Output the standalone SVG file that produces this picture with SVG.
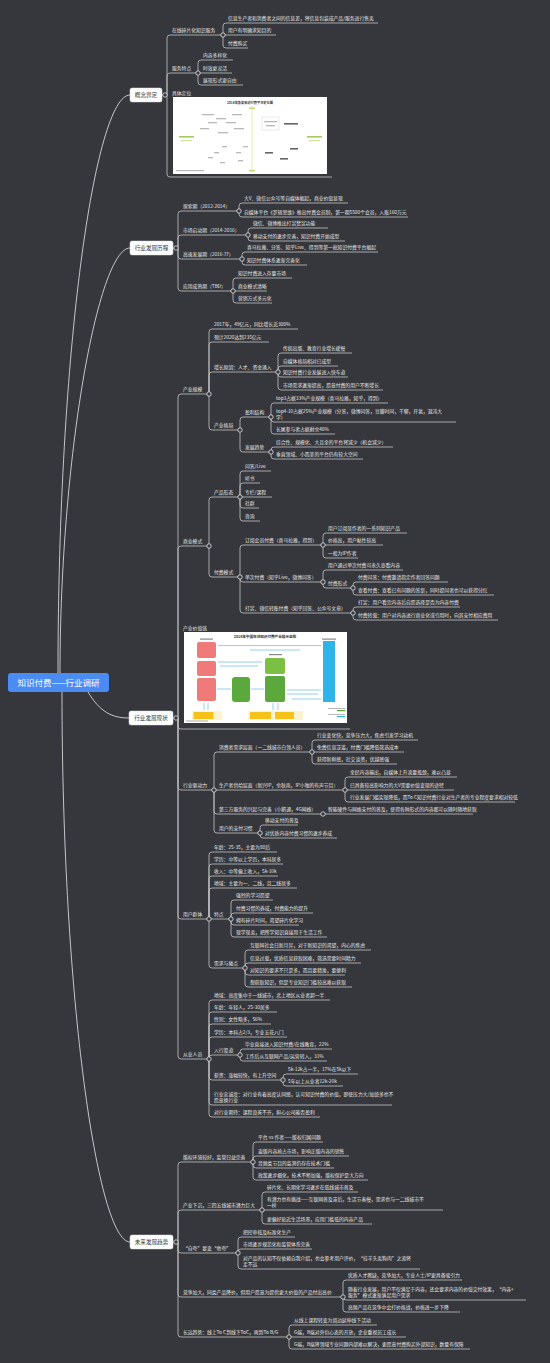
<svg xmlns="http://www.w3.org/2000/svg" width="550" height="1363" viewBox="0 0 550 1363">
<style>
.bg{fill:#36373c}
.ln{fill:none;stroke:#c4c4c4;stroke-width:0.8}
.cv{fill:none;stroke:#d6d6d6;stroke-width:0.9}
.dot{fill:#36373c;stroke:#e6e6e6;stroke-width:0.8}
text{font-family:"Noto Sans CJK SC","Noto Sans",sans-serif}
.t{font-size:4.8px;fill:#e9e9e9}
.b{fill:#fff;stroke:#d8d8d8;stroke-width:0.5}
.bt{font-size:5.6px;fill:#3a3a3a;text-anchor:middle}
.blob{fill:#b8b8b8}
.blue{fill:none;stroke:#4fb0e0;stroke-width:0.6}
</style>
<rect class="bg" x="0" y="0" width="550" height="1363"/>

<g id="connectors">
<g class="cv">
<path d="M58,673 C58,350 95,95 130,95"/>
<path d="M60,673 C60,460 98,248 130,248"/>
<path d="M88,692 C100,712 112,718 129,718"/>
<path d="M62,692 C62,1000 98,1242 130,1242"/>
</g>
<g class="ln">
<path d="M162,95H167"/>
<path d="M167,95V38Q167,35 170,35H223"/>
<path d="M167,95V76Q167,73 170,73H198"/>
<path d="M167,95V174Q167,177 170,177H332"/>
<path d="M223,35V26Q223,23 226,23H378"/>
<path d="M223,35H276"/>
<path d="M223,35V45Q223,48 226,48H248"/>
<path d="M198,73V63Q198,60 201,60H233"/>
<path d="M198,73H232"/>
<path d="M198,73V82Q198,85 201,85H243"/>

<path d="M173,248H178"/>
<path d="M178,248V214Q178,211 181,211H239"/>
<path d="M178,248V238Q178,235 181,235H248"/>
<path d="M178,248V256Q178,259 181,259H242"/>
<path d="M178,248V288Q178,291 181,291H233"/>
<path d="M239,211V206Q239,203 242,203H348"/>
<path d="M239,211V214Q239,217 242,217H408"/>
<path d="M248,235V231Q248,228 251,228H328"/>
<path d="M248,235V238Q248,241 251,241H345"/>
<path d="M242,259V255Q242,252 245,252H378"/>
<path d="M242,259V262Q242,265 245,265H307"/>
<path d="M233,291V281Q233,278 236,278H292"/>
<path d="M233,291H267"/>
<path d="M233,291V300Q233,303 236,303H272"/>

<path d="M173,718H178"/>
<path d="M178,718V397Q178,394 181,394H209"/>
<path d="M178,718V549Q178,546 181,546H209"/>
<path d="M178,718V726Q178,729 181,729H350"/>
<path d="M178,718V787Q178,790 181,790H214"/>
<path d="M178,718V916Q178,919 181,919H209"/>
<path d="M178,718V1056Q178,1059 181,1059H209"/>

<path d="M209,394V332Q209,329 212,329H298"/>
<path d="M209,394V345Q209,342 212,342H269"/>
<path d="M209,394V375Q209,372 212,372H278"/>
<path d="M209,394V427Q209,430 212,430H240"/>
<path d="M278,372V356Q278,353 281,353H352"/>
<path d="M278,372V369Q278,366 281,366H338"/>
<path d="M278,372V374Q278,377 281,377H348"/>
<path d="M278,372V387Q278,390 281,390H383"/>
<path d="M240,430V420Q240,417 243,417H271"/>
<path d="M240,430V449Q240,452 243,452H271"/>
<path d="M271,417V406Q271,403 274,403H388"/>
<path d="M271,417V419Q271,422 274,422H456"/>
<path d="M271,417V431Q271,434 274,434H335"/>
<path d="M271,452V450Q271,447 274,447H393"/>
<path d="M271,452V456Q271,459 274,459H363"/>

<path d="M209,546V500Q209,497 212,497H240"/>
<path d="M209,546V574Q209,577 212,577H240"/>
<path d="M240,497V474Q240,471 243,471H271"/>
<path d="M240,497V486Q240,483 243,483H260"/>
<path d="M240,497H272"/>
<path d="M240,497V505Q240,508 243,508H259"/>
<path d="M240,497V518Q240,521 243,521H260"/>
<path d="M240,577V548Q240,545 243,545H323"/>
<path d="M240,577V579Q240,582 243,582H323"/>
<path d="M240,577V610Q240,613 243,613H353"/>
<path d="M323,545V536Q323,533 326,533H407"/>
<path d="M323,545H383"/>
<path d="M323,545V555Q323,558 326,558H358"/>
<path d="M323,582V573Q323,570 326,570H403"/>
<path d="M323,582V585Q323,588 326,588H353"/>
<path d="M353,588V585Q353,582 356,582H448"/>
<path d="M353,588V592Q353,595 356,595H494"/>
<path d="M353,613V610Q353,607 356,607H460"/>
<path d="M353,613V617Q353,620 356,620H498"/>

<path d="M214,790V755Q214,752 217,752H312"/>
<path d="M214,790H345"/>
<path d="M214,790V811Q214,814 217,814H323"/>
<path d="M214,790V830Q214,833 217,833H260"/>
<path d="M312,752V743Q312,740 315,740H418"/>
<path d="M312,752H404"/>
<path d="M312,752V761Q312,764 315,764H397"/>
<path d="M345,790V780Q345,777 348,777H457"/>
<path d="M345,790H454"/>
<path d="M345,790V799Q345,802 348,802H515"/>
<path d="M323,814H473"/>
<path d="M260,833V828Q260,825 263,825H298"/>
<path d="M260,833V835Q260,838 263,838H337"/>

<path d="M209,919V855Q209,852 212,852H277"/>
<path d="M209,919V867Q209,864 212,864H283"/>
<path d="M209,919V879Q209,876 212,876H278"/>
<path d="M209,919V891Q209,888 212,888H297"/>
<path d="M209,919H231"/>
<path d="M209,919V965Q209,968 212,968H245"/>
<path d="M231,919V903Q231,900 234,900H273"/>
<path d="M231,919V916Q231,913 234,913H313"/>
<path d="M231,919V922Q231,925 234,925H299"/>
<path d="M231,919V934Q231,937 234,937H327"/>
<path d="M245,968V953Q245,950 248,950H371"/>
<path d="M245,968V966Q245,963 248,963H361"/>
<path d="M245,968V972Q245,975 248,975H345"/>
<path d="M245,968V984Q245,987 248,987H352"/>

<path d="M209,1059V1003Q209,1000 212,1000H330"/>
<path d="M209,1059V1015Q209,1012 212,1012H277"/>
<path d="M209,1059V1027Q209,1024 212,1024H271"/>
<path d="M209,1059V1040Q209,1037 212,1037H287"/>
<path d="M209,1059V1058Q209,1055 212,1055H240"/>
<path d="M209,1059V1077Q209,1080 212,1080H283"/>
<path d="M209,1059V1102Q209,1105 212,1105H392"/>
<path d="M209,1059V1114Q209,1117 212,1117H320"/>
<path d="M240,1055V1052Q240,1049 243,1049H332"/>
<path d="M240,1055V1058Q240,1061 243,1061H327"/>
<path d="M283,1080V1077Q283,1074 286,1074H358"/>
<path d="M283,1080V1083Q283,1086 286,1086H343"/>

<path d="M173,1242H178"/>
<path d="M178,1242V1165Q178,1162 181,1162H253"/>
<path d="M178,1242V1213Q178,1210 181,1210H262"/>
<path d="M178,1242V1250Q178,1253 181,1253H238"/>
<path d="M178,1242V1294Q178,1297 181,1297H343"/>
<path d="M178,1242V1334Q178,1337 181,1337H289"/>
<path d="M253,1162V1145Q253,1142 256,1142H323"/>
<path d="M253,1162V1159Q253,1156 256,1156H349"/>
<path d="M253,1162V1165Q253,1168 256,1168H334"/>
<path d="M253,1162V1177Q253,1180 256,1180H368"/>
<path d="M262,1210V1195Q262,1192 265,1192H358"/>
<path d="M262,1210H443"/>
<path d="M262,1210V1221Q262,1224 265,1224H372"/>
<path d="M238,1253V1240Q238,1237 241,1237H295"/>
<path d="M238,1253V1252Q238,1249 241,1249H312"/>
<path d="M238,1253V1266Q238,1269 241,1269H420"/>
<path d="M343,1297V1283Q343,1280 346,1280H462"/>
<path d="M343,1297Q343,1300 346,1300H526"/>
<path d="M343,1297V1309Q343,1312 346,1312H460"/>
<path d="M289,1337V1328Q289,1325 292,1325H377"/>
<path d="M289,1337H406"/>
<path d="M289,1337V1346Q289,1349 292,1349H470"/>
</g>
<g class="dot">
<circle cx="165" cy="95" r="2.2"/><circle cx="223" cy="35" r="2.2"/><circle cx="198" cy="73" r="2.2"/>
<circle cx="176" cy="248" r="2.2"/><circle cx="239" cy="211" r="2.2"/><circle cx="248" cy="235" r="2.2"/><circle cx="242" cy="259" r="2.2"/><circle cx="233" cy="291" r="2.2"/>
<circle cx="176" cy="718" r="2.2"/><circle cx="209" cy="394" r="2.2"/><circle cx="278" cy="372" r="2.2"/><circle cx="240" cy="430" r="2.2"/><circle cx="271" cy="417" r="2.2"/><circle cx="271" cy="452" r="2.2"/>
<circle cx="209" cy="546" r="2.2"/><circle cx="240" cy="497" r="2.2"/><circle cx="240" cy="577" r="2.2"/><circle cx="323" cy="545" r="2.2"/><circle cx="323" cy="582" r="2.2"/><circle cx="353" cy="588" r="2.2"/><circle cx="353" cy="613" r="2.2"/>
<circle cx="214" cy="790" r="2.2"/><circle cx="312" cy="752" r="2.2"/><circle cx="345" cy="790" r="2.2"/><circle cx="323" cy="814" r="2.2"/><circle cx="260" cy="833" r="2.2"/>
<circle cx="209" cy="919" r="2.2"/><circle cx="231" cy="919" r="2.2"/><circle cx="245" cy="968" r="2.2"/>
<circle cx="209" cy="1059" r="2.2"/><circle cx="240" cy="1055" r="2.2"/><circle cx="283" cy="1080" r="2.2"/>
<circle cx="176" cy="1242" r="2.2"/><circle cx="253" cy="1162" r="2.2"/><circle cx="262" cy="1210" r="2.2"/><circle cx="238" cy="1253" r="2.2"/><circle cx="343" cy="1297" r="2.2"/><circle cx="289" cy="1337" r="2.2"/>
</g>
</g>

<g id="root">
<rect x="8" y="673" width="101" height="19" rx="3" fill="#4a8cf2"/>
<text x="58.5" y="685.8" font-size="8.5" fill="#fff" text-anchor="middle">知识付费——行业调研</text>
</g>

<g id="b1"><rect class="b" x="130" y="88" width="32" height="14" rx="2"/><text class="bt" x="146" y="97">概念界定</text></g>
<g id="b2"><rect class="b" x="130" y="241" width="43" height="14" rx="2"/><text class="bt" x="151.5" y="250">行业发展历程</text></g>
<g id="b3"><rect class="b" x="129" y="711" width="44" height="14" rx="2"/><text class="bt" x="151" y="720">行业发展现状</text></g>
<g id="b4"><rect class="b" x="130" y="1235" width="43" height="14" rx="2"/><text class="bt" x="151.5" y="1244">未来发展趋势</text></g>

<g id="n1-1"><text class="t" x="172" y="32.2">在线碎片化知识服务</text></g>
<g id="n1-1-1"><text class="t" x="228" y="20.2">信息生产者和消费者之间的信息差，将信息包装成产品/服务进行售卖</text></g>
<g id="n1-1-2"><text class="t" x="228" y="32.2">用户有明确求知目的</text></g>
<g id="n1-1-3"><text class="t" x="228" y="45.2">付费购买</text></g>
<g id="n1-2"><text class="t" x="172" y="70.2">服务特点</text></g>
<g id="n1-2-1"><text class="t" x="203" y="57.2">内容多样化</text></g>
<g id="n1-2-2"><text class="t" x="203" y="70.2">时效更灵活</text></g>
<g id="n1-2-3"><text class="t" x="203" y="82.2">展现形式更自由</text></g>
<g id="n1-3"><text class="t" x="172" y="95">具体定位</text>
<rect x="173" y="97" width="154" height="77" fill="#fff"/>
<text x="250" y="103.5" font-size="3.2" font-weight="bold" fill="#333" text-anchor="middle">2018年各类知识付费平台定位图</text>
<line x1="252" y1="106" x2="252" y2="172" stroke="#e4ecb0" stroke-width="1"/>
<rect x="249" y="107.5" width="6" height="1.4" fill="#c9d47a"/><rect x="249" y="170" width="6" height="1.4" fill="#c9d47a"/>
<rect x="179" y="136" width="15" height="1.6" fill="#a5cc5a"/><rect x="181" y="140" width="11" height="1.2" fill="#cfe39a"/>
<rect x="307" y="136" width="15" height="1.6" fill="#a5cc5a"/><rect x="309" y="140" width="11" height="1.2" fill="#cfe39a"/>
<rect x="262" y="117" width="17" height="13" fill="none" stroke="#cccccc" stroke-width="0.4"/>
<rect x="264" y="121" width="13" height="1.3" class="blob"/><rect x="266" y="125" width="9" height="1.3" class="blob"/>
<rect x="284" y="123" width="14" height="1.6" fill="#666"/>
<rect x="202" y="114" width="12" height="1.3" class="blob"/><rect x="216" y="118" width="10" height="1.3" class="blob"/><rect x="232" y="114" width="10" height="1.3" class="blob"/>
<rect x="208" y="122" width="9" height="1.3" class="blob"/><rect x="226" y="122" width="10" height="1.3" class="blob"/><rect x="200" y="128" width="9" height="1.3" class="blob"/>
<rect x="218" y="132" width="10" height="1.3" class="blob"/><rect x="234" y="128" width="10" height="1.3" class="blob"/>
<rect x="222" y="146" width="5" height="1.3" class="blob"/><rect x="243" y="146" width="5" height="1.3" class="blob"/><rect x="214" y="152" width="5" height="1.3" class="blob"/>
<rect x="236" y="152" width="5" height="1.3" class="blob"/><rect x="208" y="157" width="5" height="1.3" class="blob"/><rect x="220" y="162" width="5" height="1.3" class="blob"/><rect x="238" y="160" width="5" height="1.3" class="blob"/>
<rect x="265" y="152" width="8" height="1.6" fill="#666"/><rect x="290" y="148" width="8" height="1.6" fill="#666"/><rect x="280" y="158" width="8" height="1.6" fill="#666"/>
<rect x="176" y="170" width="28" height="1.2" class="blob"/>
</g>

<g id="n2-1"><text class="t" x="183" y="208.2">探索期（2012-2014）</text></g>
<g id="n2-1-1"><text class="t" x="244" y="200.2">大V、微信公众号等自媒体崛起，商业价值显现</text></g>
<g id="n2-1-2"><text class="t" x="244" y="214.2">自媒体平台《罗辑思维》推出付费会员制，第一期5500个会员，入账160万元</text></g>
<g id="n2-2"><text class="t" x="183" y="232.2">市场启动期（2014-2016）</text></g>
<g id="n2-2-1"><text class="t" x="253" y="225.2">微信、微博推出打赏赞赏功能</text></g>
<g id="n2-2-2"><text class="t" x="253" y="238.2">移动支付的逐步完善，知识付费开始成型</text></g>
<g id="n2-3"><text class="t" x="183" y="256.2">高速发展期（2016-??）</text></g>
<g id="n2-3-1"><text class="t" x="247" y="249.2">喜马拉雅、分答、知乎Live、得到等第一批知识付费平台崛起</text></g>
<g id="n2-3-2"><text class="t" x="247" y="262.2">知识付费体系逐渐完善化</text></g>
<g id="n2-4"><text class="t" x="183" y="288.2">应用成熟期（TBD）</text></g>
<g id="n2-4-1"><text class="t" x="238" y="275.2">知识付费进入存量市场</text></g>
<g id="n2-4-2"><text class="t" x="238" y="288.2">商业模式清晰</text></g>
<g id="n2-4-3"><text class="t" x="238" y="300.2">营销方式多元化</text></g>

<g id="n3-1"><text class="t" x="183" y="391.2">产业规模</text></g>
<g id="n3-1-1"><text class="t" x="214" y="326.2">2017年，49亿元，同比增长近300%</text></g>
<g id="n3-1-2"><text class="t" x="214" y="339.2">预计2020达到235亿元</text></g>
<g id="n3-1-3"><text class="t" x="214" y="369.2">增长原因：人才、资金涌入</text></g>
<g id="n3-1-3-1"><text class="t" x="283" y="350.2">传统出版、教育行业增长缓慢</text></g>
<g id="n3-1-3-2"><text class="t" x="283" y="363.2">自媒体格局相对已成型</text></g>
<g id="n3-1-3-3"><text class="t" x="283" y="374.2">知识付费行业发展进入快车道</text></g>
<g id="n3-1-3-4"><text class="t" x="283" y="387.2">市场需求逐渐提高，愿意付费的用户不断增长</text></g>
<g id="n3-1-4"><text class="t" x="214" y="427.2">产业格局</text></g>
<g id="n3-1-4-1"><text class="t" x="245" y="414.2">盈利结构</text></g>
<g id="n3-1-4-1-1"><text class="t" x="276" y="400.2">top3占据33%产业规模（喜马拉雅，知乎，得到）</text></g>
<g id="n3-1-4-1-2"><text class="t" x="276" y="412.7">top4-10占据25%产业规模（分答，微博问答，豆瓣时间，千聊，开氪，混沌大</text><text class="t" x="276" y="419.2">学）</text></g>
<g id="n3-1-4-1-3"><text class="t" x="276" y="431.2">长尾参与者占据剩余40%</text></g>
<g id="n3-1-4-2"><text class="t" x="245" y="449.2">发展趋势</text></g>
<g id="n3-1-4-2-1"><text class="t" x="276" y="444.2">综合性、规模化、大且全的平台将减少（机会减少）</text></g>
<g id="n3-1-4-2-2"><text class="t" x="276" y="456.2">垂直领域、小而美的平台仍有较大空间</text></g>

<g id="n3-2"><text class="t" x="183" y="543.2">商业模式</text></g>
<g id="n3-2-1"><text class="t" x="214" y="494.2">产品形态</text></g>
<g id="n3-2-1-1"><text class="t" x="245" y="468.2">问答/Live</text></g>
<g id="n3-2-1-2"><text class="t" x="245" y="480.2">听书</text></g>
<g id="n3-2-1-3"><text class="t" x="245" y="494.2">专栏/课程</text></g>
<g id="n3-2-1-4"><text class="t" x="245" y="505.2">社群</text></g>
<g id="n3-2-1-5"><text class="t" x="245" y="518.2">咨询</text></g>
<g id="n3-2-2"><text class="t" x="214" y="574.2">付费模式</text></g>
<g id="n3-2-2-1"><text class="t" x="245" y="542.2">订阅会员付费（喜马拉雅，得到）</text></g>
<g id="n3-2-2-1-1"><text class="t" x="328" y="530.2">用户订阅某作者的一系列知识产品</text></g>
<g id="n3-2-2-1-2"><text class="t" x="328" y="542.2">价格高，用户黏性较高</text></g>
<g id="n3-2-2-1-3"><text class="t" x="328" y="555.2">一般为IP作者</text></g>
<g id="n3-2-2-2"><text class="t" x="245" y="579.2">单次付费（知乎Live，微博问答）</text></g>
<g id="n3-2-2-2-1"><text class="t" x="328" y="567.2">用户通过单次付费可永久查看内容</text></g>
<g id="n3-2-2-2-2"><text class="t" x="328" y="585.2">付费形式</text></g>
<g id="n3-2-2-2-2-1"><text class="t" x="358" y="579.2">付费问答：付费邀请指定作者回答问题</text></g>
<g id="n3-2-2-2-2-2"><text class="t" x="358" y="592.2">查看付费：查看已有问题的答案，同时提问者也可以获得分红</text></g>
<g id="n3-2-2-3"><text class="t" x="245" y="610.2">打赏、微信转账付费（知乎回答、公众号文章）</text></g>
<g id="n3-2-2-3-1"><text class="t" x="358" y="604.2">打赏：用户看完内容后自愿选择是否为内容付费</text></g>
<g id="n3-2-2-3-2"><text class="t" x="358" y="617.2">付费转载：用户对内容进行商业化或引用时，向其支付相应费用</text></g>

<g id="n3-3"><text class="t" x="183" y="630">产业价值链</text>
<rect x="184" y="632" width="163" height="91" fill="#fff"/>
<text x="265" y="637.5" font-size="3.6" font-weight="bold" fill="#333" text-anchor="middle">2018年中国在线知识付费产业链示意图</text>
<rect x="200" y="638.5" width="13" height="1.2" fill="#888"/><rect x="269" y="654" width="13" height="1.2" fill="#888"/><rect x="322" y="638.5" width="14" height="1.2" fill="#888"/>
<rect x="197" y="642" width="19" height="16" rx="2" fill="#f07a7a"/>
<rect x="197" y="661" width="19" height="15" rx="2" fill="#f07a7a"/>
<rect x="197" y="678" width="19" height="23" rx="2" fill="#f07a7a"/>
<rect x="232" y="677" width="18" height="25" rx="3" fill="#5ba83c"/>
<rect x="265" y="658" width="20" height="16" rx="2" fill="#7cc043"/>
<rect x="265" y="676" width="20" height="26" rx="2" fill="#5ba83c"/>
<rect x="323" y="641" width="12" height="61" fill="#2fb4ea"/>
<path class="blue" d="M218,645.5H321M250,650H300M218,662H262M220,666H258M217,689H231M251,689H264M287,690H321M287,694H318M292,699H321"/>
<path class="blue" d="M204,703V710M208,703V710M273,703V710M278,703V710"/>
<rect x="192" y="711" width="30" height="9" fill="#fdf3cf"/>
<rect x="193.5" y="712" width="20" height="7" fill="#f6c21a"/>
<rect x="248" y="711" width="55" height="9" fill="#fdf3cf"/>
<rect x="250" y="712" width="21" height="7" fill="#f6c21a"/>
<rect x="275" y="712" width="19" height="7" fill="#f6c21a"/>
<rect x="328" y="708" width="17" height="0.8" fill="#aaa"/><rect x="337" y="710" width="8" height="1.2" fill="#5ba83c"/>
<rect x="328" y="714" width="17" height="0.8" fill="#aaa"/><rect x="337" y="716" width="8" height="1.2" fill="#2fb4ea"/>
<rect x="186" y="720.5" width="22" height="1" fill="#aaa"/>
</g>

<g id="n3-4"><text class="t" x="183" y="787.2">行业驱动力</text></g>
<g id="n3-4-1"><text class="t" x="219" y="749.2">消费者需求层面（一二线城市白领人员）</text></g>
<g id="n3-4-1-1"><text class="t" x="317" y="737.2">行业变化快，竞争压力大，焦虑引发学习动机</text></g>
<g id="n3-4-1-2"><text class="t" x="317" y="749.2">免费信息泛滥，付费门槛降低筛选成本</text></g>
<g id="n3-4-1-3"><text class="t" x="317" y="761.2">获得新鲜感，社交谈资，优越感强</text></g>
<g id="n3-4-2"><text class="t" x="219" y="787.2">生产者供给层面（新兴IP，余秋雨，IP小咖的有声节目）</text></g>
<g id="n3-4-2-1"><text class="t" x="350" y="774.2">全民内容输出，自媒体上升流量瓶颈，难以凸显</text></g>
<g id="n3-4-2-2"><text class="t" x="350" y="787.2">已具备较高影响力的大V需要价值变现的途径</text></g>
<g id="n3-4-2-3"><text class="t" x="350" y="799.2">行业发展门槛实现降低，而To C知识付费行业对生产者的专业程度要求相对较低</text></g>
<g id="n3-4-3"><text class="t" x="219" y="811.2">第三方服务的兴起与完善（小鹅通，4G网络）</text></g>
<g id="n3-4-3-1"><text class="t" x="328" y="811.2">智能硬件与网络支付的普及，使得各种形式的内容都可以随时随地获取</text></g>
<g id="n3-4-4"><text class="t" x="219" y="830.2">用户的支付习惯</text></g>
<g id="n3-4-4-1"><text class="t" x="265" y="822.2">移动支付的普及</text></g>
<g id="n3-4-4-2"><text class="t" x="265" y="835.2">对优质内容付费习惯的逐步养成</text></g>

<g id="n3-5"><text class="t" x="183" y="916.2">用户群体</text></g>
<g id="n3-5-1"><text class="t" x="214" y="849.2">年龄：25-35，主要为80后</text></g>
<g id="n3-5-2"><text class="t" x="214" y="861.2">学历：中等以上学历，本科居多</text></g>
<g id="n3-5-3"><text class="t" x="214" y="873.2">收入：中等偏上收入，5k-10k</text></g>
<g id="n3-5-4"><text class="t" x="214" y="885.2">地域：主要为一、二线，且二线居多</text></g>
<g id="n3-5-5"><text class="t" x="214" y="916.2">特点</text></g>
<g id="n3-5-5-1"><text class="t" x="236" y="897.2">强烈的学习愿望</text></g>
<g id="n3-5-5-2"><text class="t" x="236" y="910.2">付费习惯的养成，付费能力的提升</text></g>
<g id="n3-5-5-3"><text class="t" x="236" y="922.2">拥有碎片时间，渴望碎片化学习</text></g>
<g id="n3-5-5-4"><text class="t" x="236" y="934.2">现学现卖，把所学知识直接用于生活工作</text></g>
<g id="n3-5-6"><text class="t" x="214" y="965.2">需求与痛点</text></g>
<g id="n3-5-6-1"><text class="t" x="250" y="947.2">互联网社会日新月异，对于新知识的渴望，内心的焦虑</text></g>
<g id="n3-5-6-2"><text class="t" x="250" y="960.2">信息过载，优质信息获取困难，筛选需要时间精力</text></g>
<g id="n3-5-6-3"><text class="t" x="250" y="972.2">对知识的要求不只是多，而且要精准，要便利</text></g>
<g id="n3-5-6-4"><text class="t" x="250" y="984.2">想获取知识，但是专业知识门槛较高难以获取</text></g>

<g id="n3-6"><text class="t" x="183" y="1056.2">从业人员</text></g>
<g id="n3-6-1"><text class="t" x="214" y="997.2">地域：高度集中于一线城市，北上地区从业者超一半</text></g>
<g id="n3-6-2"><text class="t" x="214" y="1009.2">年龄：年轻人，25-30居多</text></g>
<g id="n3-6-3"><text class="t" x="214" y="1021.2">性别：女性略多，56%</text></g>
<g id="n3-6-4"><text class="t" x="214" y="1034.2">学历：本科占2/3，专业五花八门</text></g>
<g id="n3-6-5"><text class="t" x="214" y="1052.2">入行渠道</text></g>
<g id="n3-6-5-1"><text class="t" x="245" y="1046.2">毕业直接进入知识付费/在线教育，22%</text></g>
<g id="n3-6-5-2"><text class="t" x="245" y="1058.2">工作后从互联网产品/运营转入，31%</text></g>
<g id="n3-6-6"><text class="t" x="214" y="1077.2">薪资：涨幅较快，有上升空间</text></g>
<g id="n3-6-6-1"><text class="t" x="288" y="1071.2">5k-12k占一半，17%在5k以下</text></g>
<g id="n3-6-6-2"><text class="t" x="288" y="1083.2">5年以上从业者12k-20k</text></g>
<g id="n3-6-7"><text class="t" x="214" y="1095.7">行业忠诚度：对行业有着高度认同感，认可知识付费的价值，即使压力大/加班多也不</text><text class="t" x="214" y="1102.2">愿意换行业</text></g>
<g id="n3-6-8"><text class="t" x="214" y="1114.2">对行业期待：课程良莠不齐，担心公司能否盈利</text></g>

<g id="n4-1"><text class="t" x="183" y="1159.2">版权环境较好，监管日益完善</text></g>
<g id="n4-1-1"><text class="t" x="258" y="1139.2">平台 vs 作者——版权归属问题</text></g>
<g id="n4-1-2"><text class="t" x="258" y="1153.2">盗版内容抢占市场，影响正版内容的销售</text></g>
<g id="n4-1-3"><text class="t" x="258" y="1165.2">音频类节目的监测仍存在技术门槛</text></g>
<g id="n4-1-4"><text class="t" x="258" y="1177.2">政策逐步细化，技术不断加强，版权保护是大方向</text></g>
<g id="n4-2"><text class="t" x="183" y="1207.2">产业下沉，三四五线城市潜力巨大</text></g>
<g id="n4-2-1"><text class="t" x="267" y="1189.2">碎片化、长期化学习逐步在低线城市普及</text></g>
<g id="n4-2-2"><text class="t" x="267" y="1200.7">有潜力也有挑战——互联网普及滞后，生活节奏慢，需求也与一二线城市不</text><text class="t" x="267" y="1207.2">一样</text></g>
<g id="n4-2-3"><text class="t" x="267" y="1221.2">更偏好贴近生活场景，应用门槛低的内容产品</text></g>
<g id="n4-3"><text class="t" x="183" y="1250.2">“自夸”要变“他夸”</text></g>
<g id="n4-3-1"><text class="t" x="243" y="1234.2">把控审核及标准化生产</text></g>
<g id="n4-3-2"><text class="t" x="243" y="1246.2">市场逐步规范化和监管体系完善</text></g>
<g id="n4-3-3"><text class="t" x="243" y="1259.7">对产品的认知不仅依赖自我介绍，也会参考用户评价，“挂羊头卖狗肉”之流将</text><text class="t" x="243" y="1266.2">走不远</text></g>
<g id="n4-4"><text class="t" x="183" y="1294.2">竞争加大，同类产品降价，但用户愿意为提供更大价值的产品付出高价</text></g>
<g id="n4-4-1"><text class="t" x="348" y="1277.2">优质人才稀缺，竞争加大，专业人士/IP更具备吸引力</text></g>
<g id="n4-4-2"><text class="t" x="348" y="1290.7">随着行业发展，用户不仅满足于内容，还会要求内容的价值交付效果，“内容+</text><text class="t" x="348" y="1297.2">服务”模式逐渐满足用户需求</text></g>
<g id="n4-4-3"><text class="t" x="348" y="1309.2">高频产品在竞争中会打价格战，价格进一步下降</text></g>
<g id="n4-5"><text class="t" x="183" y="1334.2">长远趋势：线上To C到线下ToC，再到To B/G</text></g>
<g id="n4-5-1"><text class="t" x="294" y="1322.2">从线上课程转变为周边延伸线下活动</text></g>
<g id="n4-5-2"><text class="t" x="294" y="1334.2">G端，B端对外包心态的开放，企业重视员工成长</text></g>
<g id="n4-5-3"><text class="t" x="294" y="1346.2">G端，B端将领域专业问题内部难以解决，更愿意付费购买外部知识，数量有保障</text></g>
</svg>
